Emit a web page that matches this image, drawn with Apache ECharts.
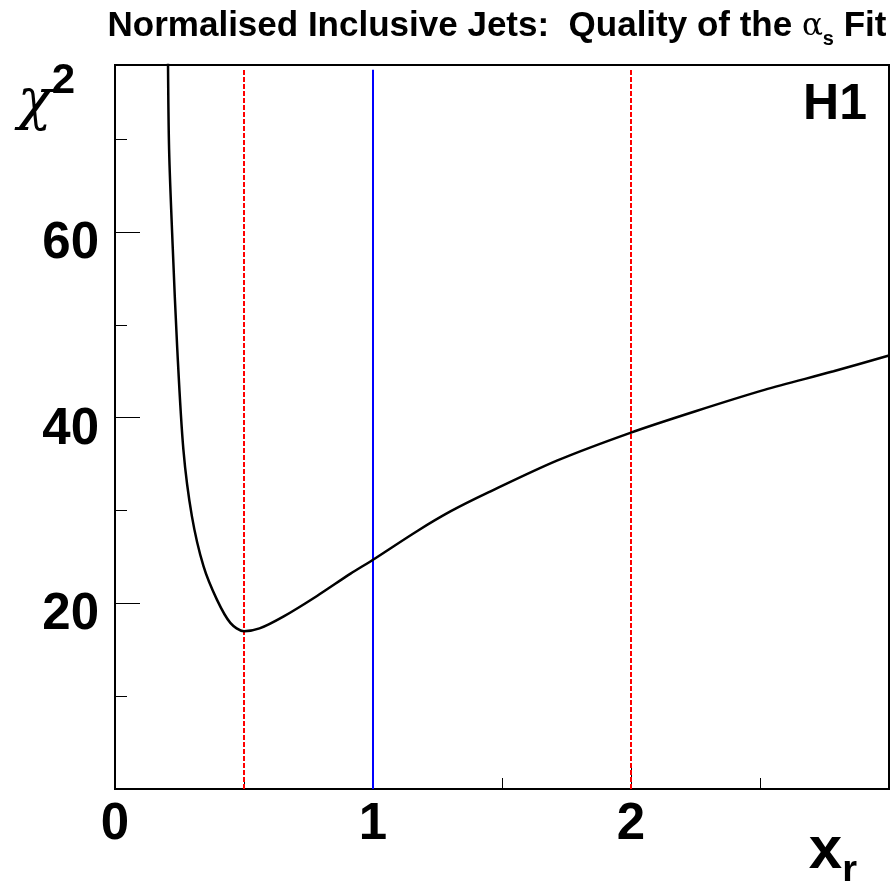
<!DOCTYPE html>
<html>
<head>
<meta charset="utf-8">
<script src="https://cdn.jsdelivr.net/npm/echarts@6/dist/echarts.min.js"></script>
<style>html,body{margin:0;padding:0;background:#fff}#c{width:891px;height:881px}</style>
</head>
<body>
<div id="c"></div>
<script>
// ---- data ----
var xr   = [0.205, 0.2097, 0.224, 0.2408, 0.265, 0.298, 0.343, 0.395, 0.447, 0.5, 0.56, 0.654, 0.783, 0.913, 1.0, 1.172, 1.3, 1.447, 1.715, 2.0, 2.25, 2.517, 2.785, 3.0];
var chi2 = [80, 68.9, 58.2, 47.7, 36.6, 29.4, 24.0, 20.4, 17.9, 17.0, 17.3, 18.6, 20.8, 23.2, 24.7, 27.8, 29.9, 31.95, 35.4, 38.4, 40.7, 43.0, 45.0, 46.7];
var redLinesX = [0.5, 2.0];   // dashed red markers
var blueLineX = [1.0];        // solid blue marker
var markerRange = [0, 77.5];  // vertical extent of marker lines (chi2)
var xTickLabels = ['0', '1', '2'];
var yTickLabels = ['20', '40', '60'];

var FONT = 'Liberation Sans';

function vline(x) { return [[x, markerRange[0]], [x, markerRange[1]]]; }

var series = [];
redLinesX.forEach(function (x) {
  series.push({type: 'line', data: vline(x), symbol: 'none', silent: true,
    lineStyle: {color: '#ff0000', width: 2, type: [5, 2]}, z: 3});
});
blueLineX.forEach(function (x) {
  series.push({type: 'line', data: vline(x), symbol: 'none', silent: true,
    lineStyle: {color: '#0000ff', width: 2}, z: 3});
});
series.push({
  type: 'line', data: xr.map(function (x, i) { return [x, chi2[i]]; }),
  symbol: 'none', smooth: 0.3, clip: true,
  lineStyle: {color: '#000', width: 2.5}, z: 4
});

var chart = echarts.init(document.getElementById('c'), null, {renderer: 'canvas'});
chart.setOption({
  animation: false,
  backgroundColor: '#fff',
  title: [{
    text: 'Normalised Inclusive Jets:  Quality of the {a|α}{s|s} Fit',
    left: 497, top: 4, textAlign: 'center', padding: 0,
    textStyle: {
      fontFamily: FONT, fontWeight: 'bold', fontSize: 35, color: '#000',
      rich: {
        a: {fontFamily: 'DejaVu Serif', fontWeight: 'normal', fontSize: 31, color: '#000'},
        s: {fontFamily: FONT, fontWeight: 'bold', fontSize: 20, color: '#000', verticalAlign: 'top', padding: [25, 0, 0, 0]}
      }
    }
  }, {
    text: 'H1', right: 24, top: 80, padding: 0,
    textStyle: {fontFamily: FONT, fontWeight: 'bold', fontSize: 50, color: '#000'}
  }],
  grid: {left: 115, right: 2, top: 65, bottom: 92, outerBoundsMode: 'none', containLabel: false,
    show: true, borderColor: '#000', borderWidth: 2, backgroundColor: 'transparent'},
  xAxis: {
    type: 'value', min: 0, max: 3, interval: 1,
    name: '{x|x}{r|r}', nameLocation: 'end', nameGap: -32,
    nameTextStyle: {
      align: 'right', verticalAlign: 'top', padding: [32, 0, 0, 0],
      rich: {
        x: {fontFamily: FONT, fontWeight: 'bold', fontSize: 60, color: '#000', verticalAlign: 'top', lineHeight: 60},
        r: {fontFamily: FONT, fontWeight: 'bold', fontSize: 38, color: '#000', verticalAlign: 'top', lineHeight: 38, padding: [32, 0, 0, 0]}
      }
    },
    axisLine: {lineStyle: {color: '#000', width: 2}},
    axisTick: {inside: true, length: 22, lineStyle: {color: '#000', width: 1}},
    minorTick: {show: true, splitNumber: 2, length: 11, lineStyle: {color: '#000', width: 1}},
    splitLine: {show: false},
    axisLabel: {
      fontFamily: FONT, fontWeight: 'bold', fontSize: 51, color: '#000', margin: 10,
      showMaxLabel: false,
      formatter: function (v) { var i = Math.round(v); return (i < xTickLabels.length) ? xTickLabels[i] : ''; }
    }
  },
  yAxis: {
    type: 'value', min: 0, max: 78, interval: 20,
    name: '{c|χ}{t|2}', nameLocation: 'end', nameGap: 5,
    nameTextStyle: {
      align: 'right', verticalAlign: 'top', padding: [0, 40, 0, 0],
      rich: {
        c: {fontFamily: 'DejaVu Serif', fontStyle: 'italic', fontSize: 56, color: '#000', verticalAlign: 'top', lineHeight: 60, padding: [15, 0, 0, 0]},
        t: {fontFamily: FONT, fontWeight: 'bold', fontSize: 42, color: '#000', verticalAlign: 'top', lineHeight: 42}
      }
    },
    axisLine: {lineStyle: {color: '#000', width: 2}},
    axisTick: {inside: true, length: 25, lineStyle: {color: '#000', width: 1}},
    minorTick: {show: true, splitNumber: 2, length: 12, lineStyle: {color: '#000', width: 1}},
    splitLine: {show: false},
    axisLabel: {
      fontFamily: FONT, fontWeight: 'bold', fontSize: 51, color: '#000', margin: 16,
      showMaxLabel: false, verticalAlign: 'top', lineHeight: 24,
      formatter: function (v) { var i = Math.round(v / 20) - 1; return (i >= 0 && i < yTickLabels.length) ? yTickLabels[i] : ''; }
    }
  },
  series: series
});
</script>
</body>
</html>
